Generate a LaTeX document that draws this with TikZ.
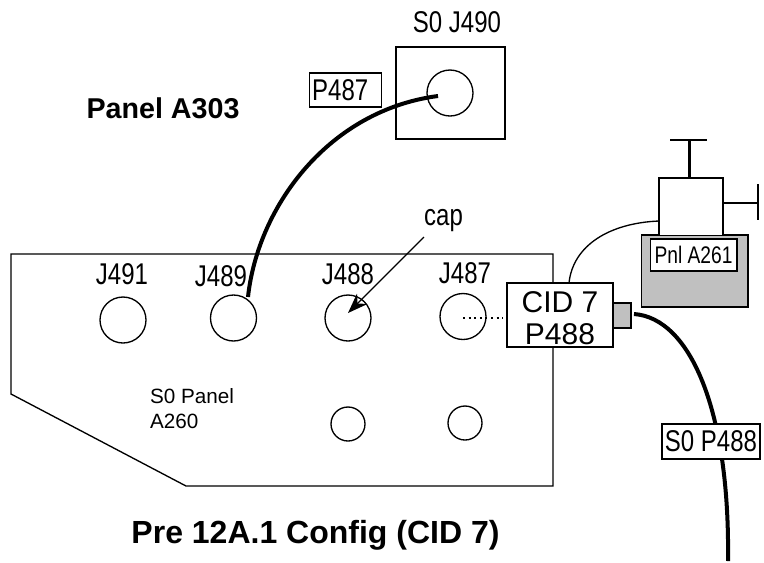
\documentclass[tikz,border=0pt]{standalone}
\usepackage{fontspec}
\setmainfont{Liberation Sans}
\newfontfamily\narrowfont[FakeStretch=0.8]{Liberation Sans}
\usepackage{xcolor}
\usetikzlibrary{arrows.meta, positioning}
\definecolor{panelgray}{HTML}{c0c0c0}

\begin{document}
\begin{tikzpicture}[
  x=0.75pt, y=-0.75pt,
  line width=1pt,
  every node/.style={inner sep=0pt, outer sep=0pt},
  jack/.style={draw, circle, minimum size=34.5pt},
  smalljack/.style={draw, circle, minimum size=25.5pt},
  tag/.style={draw, fill=white, font=\narrowfont\fontsize{18}{20}\selectfont},
  bigtag/.style={draw, fill=white, font=\narrowfont\fontsize{22.5}{24}\selectfont},
  jacklabel/.style={font=\narrowfont\fontsize{22.5}{24}\selectfont},
  title/.style={font=\bfseries\fontsize{21.5}{24}\selectfont},
  cable/.style={line width=3pt},
  stem/.style={line width=2pt},
]
\useasboundingbox (0,0) rectangle (764,562);

% S0 Panel
\draw (11,394) -- (11,254) -- (553,254) -- (553,486) -- (186,486) -- cycle;
\node[font=\fontsize{15.5}{18.75}\selectfont, align=left, anchor=north west] (panelname) at (150,389) {S0 Panel\\A260};

% Jacks
\node[jack] (j491) at (123,320) {};
\node[jack] (j489) at (233.5,318) {};
\node[jack] (j488) at (348,318) {};
\node[jack] (j487) at (463,316.5) {};
\node[smalljack] (low1) at (348,424) {};
\node[smalljack] (low2) at (465,423) {};
\node[jacklabel] (l491) at (122,274) {J491};
\node[jacklabel] (l489) at (221,276) {J489};
\node[jacklabel] (l488) at (348,274) {J488};
\node[jacklabel] (l487) at (465,273) {J487};

% Cap
\node[jacklabel] (capname) at (443.5,221) {cap};
\coordinate (captip) at (348,313);
\draw[-{Stealth[length=15pt, width=11pt]}] (424,237) coordinate (capfoot) -- (captip);

% S0 J490
\node[draw, minimum width=81.75pt, minimum height=69pt] (j490box) at (450.5,93) {};
\node[draw, circle, minimum width=32pt, minimum height=34.5pt] (j490) at (450,93) {};
\node[jacklabel] (j490name) at (457,22) {S0 J490};
\node[bigtag, align=left, inner xsep=2.1pt, text width=50pt, minimum height=25.5pt] (p487) at (345.5,90) {P487};
\node[title] (a303) at (163,108) {Panel A303};

% Pnl A261
\node[draw, fill=panelgray, minimum width=80pt, minimum height=54pt] (a261) at (694.5,271) {};
\node[draw, fill=white, minimum width=48pt, minimum height=43pt] (valve) at (691,206.5) {};
\node[tag, minimum width=65pt, minimum height=24pt] (a261name) at (693.5,255) {Pnl A261};
\coordinate (topstem) at (689.5,140);
\coordinate (sidestem) at (758,203);
\draw[stem] (valve.north -| topstem) -- (topstem);
\draw[stem] (670,140) -- (707,140);
\draw[stem] (valve.east |- sidestem) -- (sidestem);
\draw[stem] (758,184) -- (758,220);

% CID 7 plug
\node[draw, fill=white, minimum width=79.5pt, minimum height=48pt] (cid7) at (560,315) {};
\node[align=center, font=\fontsize{22.5}{24}\selectfont] (cidtext) at (560,318) {CID 7\\P488};
\node[draw, fill=panelgray, minimum width=13.5pt, minimum height=18.75pt, anchor=west] (plug) at (cid7.east |- 0,315.5) {};
\coordinate (dotend) at (503,318);
\draw[dash pattern=on 1.5pt off 2.7pt, line width=1.5pt] (j487.center |- dotend) -- (dotend);
\coordinate (thinstart) at (569,283);
\coordinate (thinend) at (659,221);
\draw (thinstart) .. controls (573,245) and (610,223) .. (thinend);

% Cables
\coordinate (p487end) at (438,96);
\coordinate (j489end) at (248,297);
\draw[cable] (j489end) .. controls (258,205) and (330,110) .. (p487end);
\coordinate (plugend) at (634,314);
\coordinate (freeend) at (728,561);
\draw[cable] (plugend) .. controls (690,318) and (730,410) .. (freeend);
\node[bigtag, minimum width=73.5pt, minimum height=26.25pt] (s0p488) at (711,441.5) {S0 P488};

% Caption
\node[title, font=\bfseries\fontsize{24}{26}\selectfont] (caption) at (315.5,535) {Pre 12A.1 Config (CID 7)};
\end{tikzpicture}
\end{document}
